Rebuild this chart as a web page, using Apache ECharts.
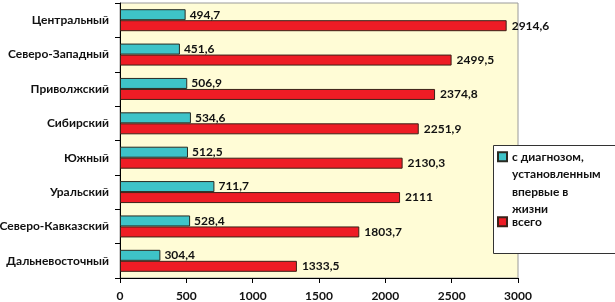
<!DOCTYPE html>
<html><head><meta charset="utf-8">
<script src="https://cdn.jsdelivr.net/npm/echarts@6/dist/echarts.min.js"></script>
<style>html,body{margin:0;padding:0;background:#fff}#c{width:615px;height:302px}</style>
</head><body><div id="c"></div>
<script>
const categories = ['Центральный','Северо-Западный','Приволжский','Сибирский','Южный','Уральский','Северо-Кавказский','Дальневосточный'];
const seriesNames = ['с диагнозом,\nустановленным\nвпервые в\nжизни','всего'];
const firstTime = [494.7, 451.6, 506.9, 534.6, 512.5, 711.7, 528.4, 304.4];
const total = [2914.6, 2499.5, 2374.8, 2251.9, 2130.3, 2111, 1803.7, 1333.5];
const xTicks = [0, 500, 1000, 1500, 2000, 2500, 3000];

const FONT = 'Lato, "Open Sans", sans-serif';
const fmt = p => String(p.value).replace('.', ',');
const legendText = {fontFamily: FONT, fontWeight: 'bold', fontSize: 12, color: '#111', lineHeight: 17.5};
const chart = echarts.init(document.getElementById('c'));
chart.setOption({
  animation: false,
  backgroundColor: '#fff',
  textStyle: {fontFamily: FONT},
  grid: {left: 120, right: 97, top: 3, bottom: 24, outerBoundsMode: 'none', containLabel: false, show: true, backgroundColor: '#FFFCD6', borderColor: '#9a9a9a', borderWidth: 1},
  graphic: [{type: 'rect', shape: {x: 493.5, y: 145.5, width: 125, height: 108}, style: {fill: '#fff', stroke: '#333', lineWidth: 1}, z: 1}],
  legend: [
    {data: [seriesNames[0]], orient: 'vertical', left: 497, top: 148, itemWidth: 9, itemHeight: 61.5, itemGap: 0, padding: 0,
     icon: 'path://M0,0h9v9h-9z M0,61.5', textStyle: legendText, z: 5},
    {data: [seriesNames[1]], orient: 'vertical', left: 497, top: 213, itemWidth: 9, itemHeight: 9, itemGap: 0, padding: 0,
     icon: 'rect', textStyle: legendText, z: 5}
  ],
  xAxis: {type: 'value', min: xTicks[0], max: xTicks[xTicks.length - 1], interval: 500,
    axisLine: {show: true, lineStyle: {color: '#000'}}, axisTick: {show: true, length: 5, lineStyle: {color: '#000'}},
    splitLine: {show: false},
    axisLabel: {fontFamily: FONT, fontWeight: 'bold', fontSize: 12, color: '#111', margin: 12, formatter: v => String(v)}},
  yAxis: {type: 'category', data: categories, inverse: true,
    axisLine: {show: true, lineStyle: {color: '#000'}}, axisTick: {show: true, length: 5, lineStyle: {color: '#000'}},
    axisLabel: {fontFamily: FONT, fontWeight: 'bold', fontSize: 12, color: '#111', margin: 11}},
  series: [
    {name: seriesNames[0], type: 'bar', data: firstTime, barWidth: 11, barGap: '0%',
     itemStyle: {color: '#3EC3C8', borderColor: '#2a2a22', borderWidth: 1},
     label: {show: true, position: 'right', distance: 4, formatter: fmt, fontFamily: FONT, fontWeight: 'bold', fontSize: 12, color: '#111'}},
    {name: seriesNames[1], type: 'bar', data: total, barWidth: 11,
     itemStyle: {color: '#EE1C25', borderColor: '#3a2218', borderWidth: 1},
     label: {show: true, position: 'right', distance: 5, formatter: fmt, fontFamily: FONT, fontWeight: 'bold', fontSize: 12, color: '#111'}}
  ]
});
</script></body></html>
